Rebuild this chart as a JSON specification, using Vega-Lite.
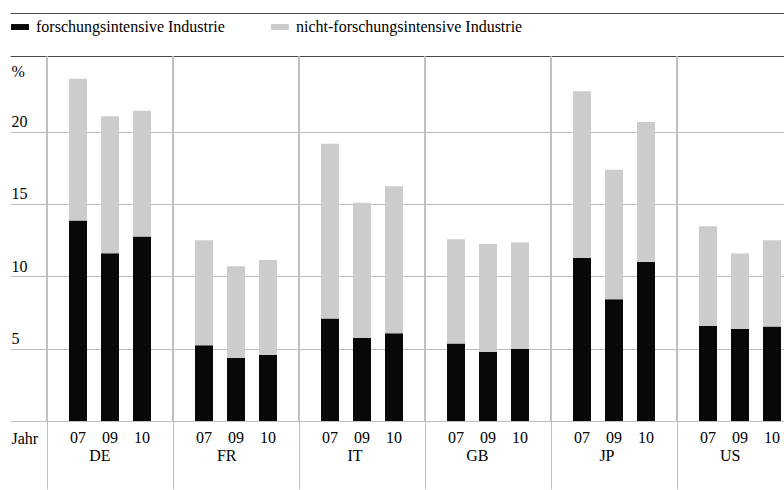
{
  "$schema": "https://vega.github.io/schema/vega-lite/v6.json",
  "width": 737,
  "height": 408,
  "autosize": {"type": "none"},
  "padding": {"left": 47, "top": 13, "right": 0, "bottom": 69},
  "background": "white",
  "config": {
    "view": {"stroke": null},
    "font": "'Liberation Serif', 'Times New Roman', 'DejaVu Serif', serif",
    "axis": {"labelFont": "'Liberation Serif', 'Times New Roman', 'DejaVu Serif', serif", "titleFont": "'Liberation Serif', 'Times New Roman', 'DejaVu Serif', serif"},
    "legend": {"labelFont": "'Liberation Serif', 'Times New Roman', 'DejaVu Serif', serif"},
    "text": {"font": "'Liberation Serif', 'Times New Roman', 'DejaVu Serif', serif"}
  },
  "data": {
    "values": [
      {"country": "DE", "year": "07", "type": "forschungsintensive Industrie", "value": 13.85},
      {"country": "DE", "year": "07", "type": "nicht-forschungsintensive Industrie", "value": 9.8},
      {"country": "DE", "year": "09", "type": "forschungsintensive Industrie", "value": 11.6},
      {"country": "DE", "year": "09", "type": "nicht-forschungsintensive Industrie", "value": 9.46},
      {"country": "DE", "year": "10", "type": "forschungsintensive Industrie", "value": 12.75},
      {"country": "DE", "year": "10", "type": "nicht-forschungsintensive Industrie", "value": 8.7},
      {"country": "FR", "year": "07", "type": "forschungsintensive Industrie", "value": 5.23},
      {"country": "FR", "year": "07", "type": "nicht-forschungsintensive Industrie", "value": 7.26},
      {"country": "FR", "year": "09", "type": "forschungsintensive Industrie", "value": 4.35},
      {"country": "FR", "year": "09", "type": "nicht-forschungsintensive Industrie", "value": 6.34},
      {"country": "FR", "year": "10", "type": "forschungsintensive Industrie", "value": 4.56},
      {"country": "FR", "year": "10", "type": "nicht-forschungsintensive Industrie", "value": 6.57},
      {"country": "IT", "year": "07", "type": "forschungsintensive Industrie", "value": 7.08},
      {"country": "IT", "year": "07", "type": "nicht-forschungsintensive Industrie", "value": 12.09},
      {"country": "IT", "year": "09", "type": "forschungsintensive Industrie", "value": 5.75},
      {"country": "IT", "year": "09", "type": "nicht-forschungsintensive Industrie", "value": 9.34},
      {"country": "IT", "year": "10", "type": "forschungsintensive Industrie", "value": 6.06},
      {"country": "IT", "year": "10", "type": "nicht-forschungsintensive Industrie", "value": 10.16},
      {"country": "GB", "year": "07", "type": "forschungsintensive Industrie", "value": 5.35},
      {"country": "GB", "year": "07", "type": "nicht-forschungsintensive Industrie", "value": 7.21},
      {"country": "GB", "year": "09", "type": "forschungsintensive Industrie", "value": 4.79},
      {"country": "GB", "year": "09", "type": "nicht-forschungsintensive Industrie", "value": 7.44},
      {"country": "GB", "year": "10", "type": "forschungsintensive Industrie", "value": 5.0},
      {"country": "GB", "year": "10", "type": "nicht-forschungsintensive Industrie", "value": 7.33},
      {"country": "JP", "year": "07", "type": "forschungsintensive Industrie", "value": 11.29},
      {"country": "JP", "year": "07", "type": "nicht-forschungsintensive Industrie", "value": 11.51},
      {"country": "JP", "year": "09", "type": "forschungsintensive Industrie", "value": 8.41},
      {"country": "JP", "year": "09", "type": "nicht-forschungsintensive Industrie", "value": 8.96},
      {"country": "JP", "year": "10", "type": "forschungsintensive Industrie", "value": 10.99},
      {"country": "JP", "year": "10", "type": "nicht-forschungsintensive Industrie", "value": 9.67},
      {"country": "US", "year": "07", "type": "forschungsintensive Industrie", "value": 6.59},
      {"country": "US", "year": "07", "type": "nicht-forschungsintensive Industrie", "value": 6.87},
      {"country": "US", "year": "09", "type": "forschungsintensive Industrie", "value": 6.36},
      {"country": "US", "year": "09", "type": "nicht-forschungsintensive Industrie", "value": 5.21},
      {"country": "US", "year": "10", "type": "forschungsintensive Industrie", "value": 6.54},
      {"country": "US", "year": "10", "type": "nicht-forschungsintensive Industrie", "value": 5.95}
    ]
  },
  "layer": [
    {
      "mark": {"type": "rule", "color": "#c0c0c0", "strokeWidth": 1},
      "encoding": {
        "x": {"field": "country", "type": "nominal", "bandPosition": 0, "sort": ["DE", "FR", "IT", "GB", "JP", "US"]},
        "y": {"datum": 25.2},
        "y2": {"datum": 0}
      }
    },
    {
      "mark": {"type": "bar"},
      "encoding": {
        "x": {
          "field": "country", "type": "nominal",
          "sort": ["DE", "FR", "IT", "GB", "JP", "US"],
          "scale": {"range": [0, 756], "paddingInner": 0, "paddingOuter": 0},
          "axis": {
            "title": "Jahr", "titleX": -36, "titleY": 22, "titleAlign": "left", "titleBaseline": "alphabetic",
            "titleFontSize": 16, "titleFontWeight": "normal", "titleColor": "#000",
            "labelAngle": 0, "labelPadding": -42, "labelBaseline": "top", "labelFontSize": 16, "labelColor": "#000",
            "tickBand": "extent", "tickSize": 68, "tickColor": "#c0c0c0", "tickWidth": 1,
            "domain": false, "grid": false
          }
        },
        "xOffset": {"field": "year", "type": "nominal", "scale": {"paddingInner": 0.4375, "paddingOuter": 0.6875}},
        "y": {
          "field": "value", "type": "quantitative", "stack": "zero",
          "scale": {"domain": [0, 28.2], "nice": false},
          "axis": {
            "values": [0, 5, 10, 15, 20, 25.2, 28.2],
            "grid": true,
            "gridColor": {"condition": {"test": "datum.value > 21", "value": "#4a4a4a"}, "value": "#bdbdbd"},
            "tickColor": {"condition": {"test": "datum.value > 21", "value": "#4a4a4a"}, "value": "#bdbdbd"},
            "gridWidth": 1, "tickWidth": 1,
            "tickSize": 37, "domain": false,
            "labelExpr": "datum.value > 0 && datum.value < 21 ? datum.label : ''",
            "labelAlign": "left", "labelBaseline": "bottom", "labelPadding": -1, "labelOffset": -2,
            "labelFontSize": 16, "labelColor": "#000",
            "title": "%", "titleAngle": 0, "titleAlign": "left", "titleBaseline": "middle",
            "titleX": -36, "titleY": 58, "titleFontSize": 16, "titleFontWeight": "normal", "titleColor": "#000"
          }
        },
        "color": {
          "field": "type", "type": "nominal",
          "scale": {"domain": ["forschungsintensive Industrie", "nicht-forschungsintensive Industrie"], "range": ["#080808", "#cccccc"]},
          "legend": {
            "orient": "none", "legendX": -36, "legendY": 5, "direction": "horizontal", "title": null,
            "symbolType": "M-1,-0.33H1V0.33H-1Z", "symbolSize": 324, "symbolStrokeWidth": 0,
            "labelFontSize": 16, "labelColor": "#000", "labelOffset": 7, "labelLimit": 400, "columnPadding": 46
          }
        },
        "order": {"field": "type", "sort": "ascending"}
      }
    },
    {
      "transform": [{"filter": "datum.type == 'forschungsintensive Industrie'"}],
      "mark": {"type": "text", "baseline": "alphabetic", "align": "center", "dy": 22, "fontSize": 16, "color": "#000"},
      "encoding": {
        "x": {"field": "country", "type": "nominal", "sort": ["DE", "FR", "IT", "GB", "JP", "US"]},
        "xOffset": {"field": "year", "type": "nominal"},
        "y": {"datum": 0},
        "text": {"field": "year"}
      }
    }
  ]
}
